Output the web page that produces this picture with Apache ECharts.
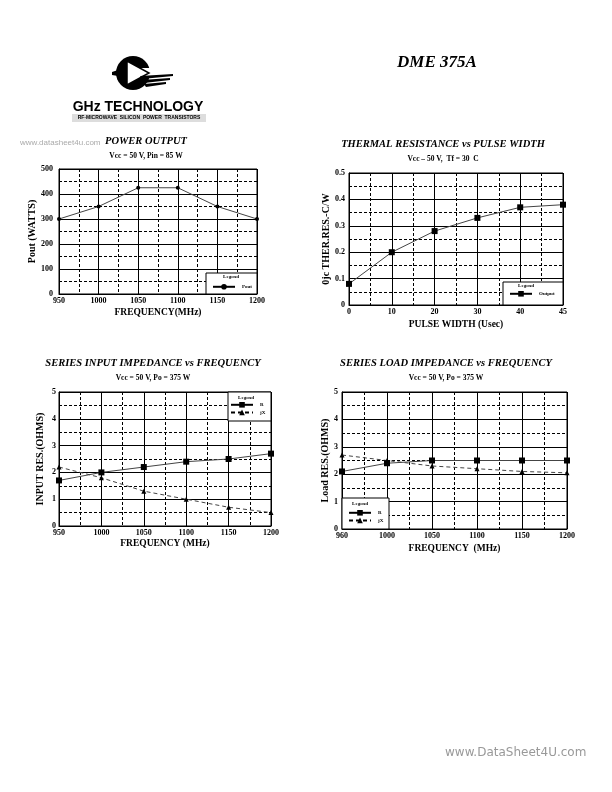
<!DOCTYPE html>
<html><head><meta charset="utf-8">
<script src="https://cdn.jsdelivr.net/npm/echarts@6/dist/echarts.min.js"></script>
<style>html,body{margin:0;padding:0;background:#fff}#c{width:612px;height:792px}</style>
</head><body><div id="c"></div>
<script>
// ---- data ----
const powerFreq = [950, 1000, 1050, 1100, 1150, 1200];
const powerOut = [300, 350, 425, 425, 350, 300];
const pulseWidthLabels = ['0', '10', '20', '30', '40', '45'];
const thermalRes = [0.08, 0.20, 0.28, 0.33, 0.37, 0.38];
const inputFreq = [950, 1000, 1050, 1100, 1150, 1200];
const inputR = [1.7, 2.0, 2.2, 2.4, 2.5, 2.7];
const inputJX = [2.2, 1.8, 1.3, 1.0, 0.7, 0.5];
const loadFreqLabels = ['960', '1000', '1050', '1100', '1150', '1200'];
const loadR = [2.1, 2.4, 2.5, 2.5, 2.5, 2.5];
const loadJX = [2.7, 2.5, 2.3, 2.2, 2.1, 2.05];
const legendNames = { Pout: 'Pout', Output: 'Output', R_in: 'R', jX_in: 'jX', R_load: 'R', jX_load: 'jX' };

const SERIF = '"Liberation Serif", "Times New Roman", serif';
const chart = echarts.init(document.getElementById('c'), null, { renderer: 'canvas' });
const plain = v => String(Math.round(v * 100) / 100);

function labelStyle(extra) {
  return Object.assign({ fontFamily: SERIF, fontWeight: 'bold', fontSize: 8, color: '#000', margin: 3, formatter: plain }, extra || {});
}
function xAxis(gi, o) {
  return Object.assign({
    gridIndex: gi, type: 'value',
    nameLocation: 'middle',
    nameTextStyle: { fontFamily: SERIF, fontWeight: 'bold', fontSize: 9.5, color: '#000' },
    axisLine: { show: true, lineStyle: { color: '#000', width: 1 } },
    axisTick: { show: false },
    axisLabel: labelStyle(),
    splitLine: { show: true, lineStyle: { color: '#000', width: 1 } },
    minorTick: { show: false, splitNumber: 2 },
    minorSplitLine: { show: true, lineStyle: { color: '#000', width: 1, type: [3, 2] } }
  }, o);
}
function yAxis(gi, o) {
  return Object.assign({
    gridIndex: gi, type: 'value',
    nameLocation: 'middle', nameRotate: 90,
    nameTextStyle: { fontFamily: SERIF, fontWeight: 'bold', fontSize: 10, color: '#000' },
    axisLine: { show: true, lineStyle: { color: '#000', width: 1 } },
    axisTick: { show: false },
    axisLabel: labelStyle({ margin: 4 }),
    splitLine: { show: true, lineStyle: { color: '#000', width: 1 } },
    minorTick: { show: false, splitNumber: 2 },
    minorSplitLine: { show: true, lineStyle: { color: '#000', width: 1, type: [3, 2] } }
  }, o);
}
function title(text, sub, cx, top) {
  return {
    text: text, subtext: sub, left: cx, top: top, textAlign: 'center', padding: 0, itemGap: 5,
    textStyle: { fontFamily: SERIF, fontWeight: 'bold', fontStyle: 'italic', fontSize: 10.5, color: '#000' },
    subtextStyle: { fontFamily: SERIF, fontWeight: 'bold', fontSize: 7.5, color: '#000' }
  };
}
function legend(names, left, top) {
  return {
    data: names, left: left, top: top, orient: 'vertical', padding: 0, itemGap: 2, z: 20,
    itemWidth: 22, itemHeight: 7, selectedMode: false,
    lineStyle: { color: '#000' }, itemStyle: { color: '#000' },
    formatter: n => legendNames[n],
    textStyle: { fontFamily: SERIF, fontWeight: 'bold', fontSize: 5, color: '#000', padding: [0, 0, 0, 2] }
  };
}
function line(name, xi, data, symbol, size, dashed) {
  return {
    name: name, type: 'line', xAxisIndex: xi, yAxisIndex: xi, data: data,
    symbol: symbol, symbolSize: size, animation: false,
    lineStyle: { color: '#444', width: 1, type: dashed ? [4, 3] : 'solid' },
    itemStyle: { color: '#000' }
  };
}
function box(x, y, w, h, lx, ly) {
  return [
    { type: 'rect', shape: { x: x, y: y, width: w, height: h }, style: { fill: '#fff', stroke: '#000', lineWidth: 1 }, z: 3 },
    { type: 'text', x: lx, y: ly, style: { text: 'Legend', font: 'bold 5px ' + SERIF, fill: '#000', textAlign: 'center', textVerticalAlign: 'middle' }, z: 4 }
  ];
}

const option = {
  backgroundColor: '#fff',
  animation: false,
  title: [
    title('POWER OUTPUT', 'Vcc = 50 V, Pin = 85 W', 146, 136),
    title('THERMAL RESISTANCE vs PULSE WIDTH', 'Vcc – 50 V,  Tf = 30  C', 443, 139),
    title('SERIES INPUT IMPEDANCE vs FREQUENCY', 'Vcc = 50 V, Po = 375 W', 153, 358),
    title('SERIES LOAD IMPEDANCE vs FREQUENCY', 'Vcc = 50 V, Po = 375 W', 446, 358)
  ],
  grid: [
    { left: 59, top: 169, width: 198, height: 125, show: true, borderColor: '#000', borderWidth: 1 },
    { left: 349, top: 173, width: 214, height: 132, show: true, borderColor: '#000', borderWidth: 1 },
    { left: 59, top: 392, width: 212, height: 134, show: true, borderColor: '#000', borderWidth: 1 },
    { left: 342, top: 392, width: 225, height: 137, show: true, borderColor: '#000', borderWidth: 1 }
  ],
  xAxis: [
    xAxis(0, { min: 950, max: 1200, interval: 50, name: 'FREQUENCY(MHz)', nameGap: 14 }),
    xAxis(1, { min: 0, max: 5, interval: 1, name: 'PULSE WIDTH (Usec)', nameGap: 15,
      axisLabel: labelStyle({ formatter: v => pulseWidthLabels[v] }) }),
    xAxis(2, { min: 950, max: 1200, interval: 50, name: 'FREQUENCY (MHz)', nameGap: 13 }),
    xAxis(3, { min: 0, max: 5, interval: 1, name: 'FREQUENCY  (MHz)', nameGap: 15,
      axisLabel: labelStyle({ formatter: v => loadFreqLabels[v] }) })
  ],
  yAxis: [
    yAxis(0, { min: 0, max: 500, interval: 100, name: 'Pout (WATTS)', nameGap: 13, axisLabel: labelStyle({ margin: 6 }) }),
    yAxis(1, { min: 0, max: 0.5, interval: 0.1, name: '0jc THER.RES.-C/W', nameGap: 12 }),
    yAxis(2, { min: 0, max: 5, interval: 1, name: 'INPUT RES.(OHMS)', nameGap: 14, axisLabel: labelStyle({ margin: 3 }) }),
    yAxis(3, { min: 0, max: 5, interval: 1, name: 'Load RES.(OHMS)', nameGap: 7 })
  ],
  legend: [
    legend(['Pout'], 212, 284),
    legend(['Output'], 509, 291),
    legend(['R_in', 'jX_in'], 230, 402),
    legend(['R_load', 'jX_load'], 348, 510)
  ],
  series: [
    line('Pout', 0, powerFreq.map((f, i) => [f, powerOut[i]]), 'circle', 4, false),
    line('Output', 1, thermalRes.map((v, i) => [i, v]), 'rect', 6, false),
    line('R_in', 2, inputFreq.map((f, i) => [f, inputR[i]]), 'rect', 6, false),
    line('jX_in', 2, inputFreq.map((f, i) => [f, inputJX[i]]), 'triangle', 5, true),
    line('R_load', 3, loadFreqLabels.map((f, i) => [i, loadR[i]]), 'rect', 6, false),
    line('jX_load', 3, loadFreqLabels.map((f, i) => [i, loadJX[i]]), 'triangle', 5, true)
  ],
  graphic: [].concat(
    box(206, 273, 51, 21, 231, 277),
    box(503, 282, 60, 23, 526, 286),
    box(228, 392, 43, 29, 246, 398),
    box(342, 498, 47, 31, 360, 504),
    [
      // header logo
      { type: 'circle', shape: { cx: 133, cy: 73, r: 17 }, style: { fill: '#000' } },
      { type: 'rect', shape: { x: 140, y: 68, width: 18, height: 10 }, style: { fill: '#fff' } },
      { type: 'polygon', shape: { points: [[127, 61], [127, 85], [149, 73]] }, style: { fill: '#fff', stroke: '#000', lineWidth: 1.5 } },
      { type: 'polygon', shape: { points: [[112, 72], [118, 70], [118, 76], [112, 75]] }, style: { fill: '#000' } },
      { type: 'polygon', shape: { points: [[140, 76], [173, 74], [173, 76], [142, 79]] }, style: { fill: '#000' } },
      { type: 'polygon', shape: { points: [[142, 80], [170, 78], [170, 80], [144, 83]] }, style: { fill: '#000' } },
      { type: 'polygon', shape: { points: [[144, 84], [166, 82], [166, 84], [146, 87]] }, style: { fill: '#000' } },
      { type: 'text', x: 138, y: 107, style: { text: 'GHz TECHNOLOGY', font: 'bold 14px "Liberation Sans", Arial, sans-serif', fill: '#000', textAlign: 'center', textVerticalAlign: 'middle' } },
      { type: 'rect', shape: { x: 72, y: 114, width: 134, height: 8 }, style: { fill: '#ddd' } },
      { type: 'text', x: 139, y: 118, style: { text: 'RF-MICROWAVE  SILICON  POWER  TRANSISTORS', font: 'bold 5px "Liberation Sans", Arial, sans-serif', fill: '#000', textAlign: 'center', textVerticalAlign: 'middle' } },
      { type: 'text', x: 397, y: 63, style: { text: 'DME 375A', font: 'bold italic 17px ' + SERIF, fill: '#000', textAlign: 'left', textVerticalAlign: 'middle' } },
      { type: 'text', x: 20, y: 143, style: { text: 'www.datasheet4u.com', font: '8px "Liberation Sans", Arial, sans-serif', fill: '#aaa', textAlign: 'left', textVerticalAlign: 'middle' } },
      { type: 'text', x: 445, y: 753, style: { text: 'www.DataSheet4U.com', font: '12px "DejaVu Sans", sans-serif', fill: '#999', textAlign: 'left', textVerticalAlign: 'middle' } }
    ]
  )
};
chart.setOption(option);
</script>
</body></html>
